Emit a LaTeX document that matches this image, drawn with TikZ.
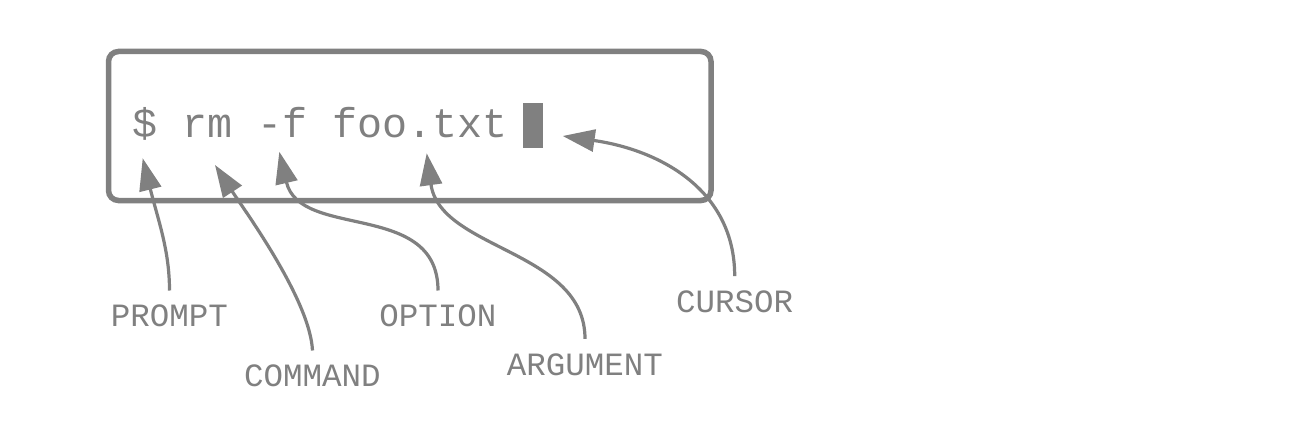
\documentclass[tikz,border=0pt]{standalone}
\usepackage{fontspec}
\setmonofont{Liberation Mono}
\usetikzlibrary{arrows.meta}
\definecolor{ink}{RGB}{128,128,128}
\begin{document}
\begin{tikzpicture}[x=1pt,y=-1pt,
  tag/.style={font=\ttfamily\fontsize{32.5}{39}\selectfont, text=ink, inner sep=0pt,
    text height=36pt, text depth=0pt, anchor=base},
  conn/.style={draw=ink, line width=3.2pt, -{Triangle[length=32pt,width=22pt]}},
  frame/.style={draw=ink, line width=5.5pt, rounded corners=10pt},
  cmd/.style={font=\ttfamily\fontsize{41.7}{50}\selectfont, text=ink, inner sep=0pt, anchor=base west},
  cursorbox/.style={fill=ink, inner sep=0pt, minimum width=20pt, minimum height=45pt}]
\useasboundingbox (0,0) rectangle (1303,428);
\fill[white] (0,0) rectangle (1303,428);

% terminal box
\node[frame, minimum width=602.5pt, minimum height=149pt] (term) at (409.75,126) {};
\node[cmd] (line) at (132.5,137.5) {\$ rm -f foo.txt};
\node[cursorbox] (cursor) at (533,125) {};

% arrow targets
\coordinate (tP) at (142.7,158.3);
\coordinate (tC) at (215,165);
\coordinate (tO) at (279.3,151.7);
\coordinate (tA) at (426.7,153.3);
\coordinate (tK) at (562.7,136);

% labels
\node[tag] (prompt) at (169.5,326.7) {PROMPT};
\node[tag] (command) at (312.5,386.7) {COMMAND};
\node[tag] (option) at (438,326.7) {OPTION};
\node[tag] (argument) at (585,375) {ARGUMENT};
\node[tag] (cursorlbl) at (734.7,312.3) {CURSOR};

% connectors
\draw[conn] (prompt.north) .. controls (169.5,250) and (158,220) .. (tP);
\draw[conn] (command.north) .. controls (310,300) and (245,211) .. (tC);
\draw[conn] (option.north) .. controls (438,200) and (300,240) .. (tO);
\draw[conn] (argument.north) .. controls (585,250) and (440,250) .. (tA);
\draw[conn] (cursorlbl.north) .. controls (734.7,190) and (660,150) .. (tK);
\end{tikzpicture}
\end{document}
